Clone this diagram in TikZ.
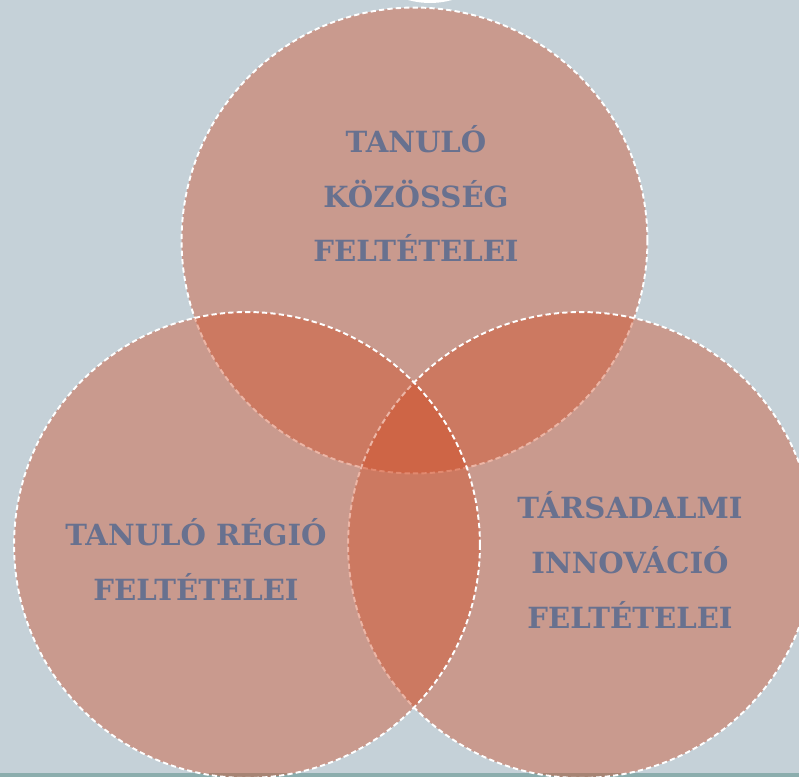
\documentclass[tikz,border=0pt]{standalone}
\usepackage{fontspec}
\setmainfont{DejaVu Serif}
\usetikzlibrary{positioning}
\definecolor{BgSlate}{HTML}{C5D1D8}
\definecolor{StripTeal}{HTML}{8BADAD}
\definecolor{VennRed}{HTML}{D1481F}
\definecolor{LabelInk}{HTML}{68718F}
\tikzset{
  venn/.style={circle, fill=VennRed, fill opacity=0.4, draw=white, line width=1.1pt,
               dash pattern=on 3pt off 1.8pt, minimum size=9.32cm, inner sep=0pt},
  vlabel/.style={font=\bfseries\fontsize{16.6}{31.3}\selectfont, text=LabelInk,
                 align=center, anchor=base},
}

\begin{document}
\begin{tikzpicture}[x=0.02cm, y=-0.02cm]
% ---------------------------------------------------------------- backdrop
\clip (0,0) rectangle (799,777);
\fill[BgSlate] (0,0) rectangle (799,777);
\fill[StripTeal] (0,773) rectangle (799,777);
\fill[white] (430,-79) circle[radius=1.64cm];
% ---------------------------------------------------------------- circles
\node[venn] (kozosseg) at (414.5,240.5) {};
\node[venn] (innovacio) at (581,545) {};
\node[venn] (regio) at (247,545) {};
% ---------------------------------------------------------------- labels (anchored at last line)
\node[vlabel] (kozosseg-lab) at (416,262) {TANULÓ\\KÖZÖSSÉG\\FELTÉTELEI};
\node[vlabel] (regio-lab) at (196,600) {TANULÓ RÉGIÓ\\FELTÉTELEI};
\node[vlabel] (innovacio-lab) at (630,628) {TÁRSADALMI\\INNOVÁCIÓ\\FELTÉTELEI};
\end{tikzpicture}
\end{document}
